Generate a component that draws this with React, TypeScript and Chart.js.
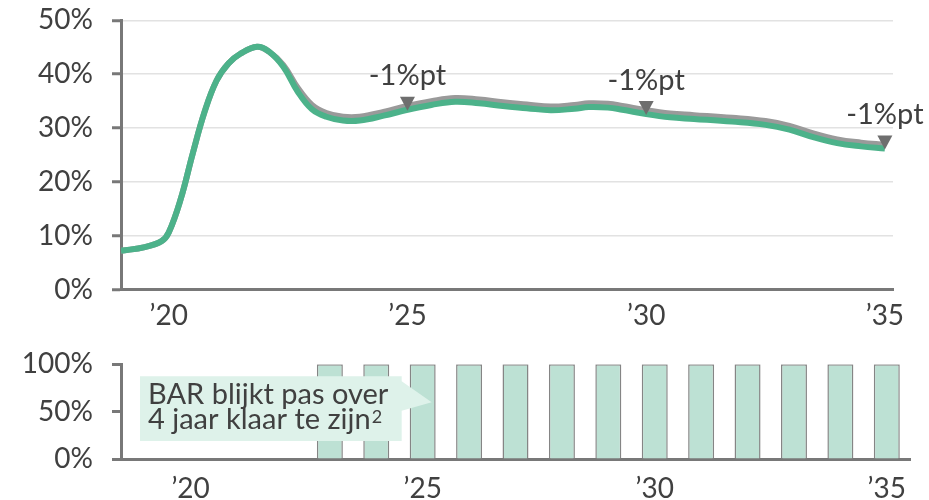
import React, { useEffect, useRef } from 'react';
import { Chart, registerables } from 'chart.js';

Chart.register(...registerables);

// ---- data ----
const years = [
  2019.0, 2019.5, 2019.85, 2020.0, 2020.25, 2020.5, 2020.75, 2021.0, 2021.25, 2021.5,
  2021.85, 2022.1, 2022.4, 2022.7, 2023.0, 2023.3, 2023.65, 2024.0, 2024.5, 2025.0,
  2025.5, 2026.0, 2026.5, 2027.0, 2027.5, 2028.0, 2028.5, 2028.8, 2029.2, 2029.5,
  2030.0, 2030.5, 2031.0, 2031.8, 2032.5, 2033.0, 2033.5, 2034.0, 2034.5, 2035.0,
];
const greenValues = [
  7.2, 7.9, 9.0, 10.6, 16.8, 25.2, 33.0, 38.8, 42.0, 43.8,
  45.1, 44.2, 41.4, 36.8, 33.5, 32.1, 31.4, 31.4, 32.3, 33.4,
  34.3, 34.9, 34.6, 34.1, 33.7, 33.3, 33.6, 33.9, 33.8, 33.4,
  32.6, 32.0, 31.7, 31.2, 30.6, 29.7, 28.3, 27.2, 26.6, 26.2,
];
const greyValues = [
  7.2, 7.9, 9.0, 10.6, 16.8, 25.2, 33.0, 38.8, 42.0, 43.8,
  45.1, 44.2, 41.7, 37.5, 34.3, 32.8, 32.1, 32.1, 33.0, 34.1,
  35.0, 35.6, 35.3, 34.8, 34.4, 34.0, 34.3, 34.6, 34.5, 34.1,
  33.3, 32.7, 32.4, 31.9, 31.3, 30.4, 29.0, 27.9, 27.3, 26.9,
];
const lineTickYears = [2020, 2025, 2030, 2035];
const annotationYears = [2025, 2030, 2035];
const annotationLabels = ['-1%pt', '-1%pt', '-1%pt'];

const barYears = [
  '2019', '2020', '2021', '2022', '2023', '2024', '2025', '2026', '2027',
  '2028', '2029', '2030', '2031', '2032', '2033', '2034', '2035',
];
const barValues = [null, null, null, null, 100, 100, 100, 100, 100, 100, 100, 100, 100, 100, 100, 100, 100];
const barTickYears = ['2020', '2025', '2030', '2035'];
const calloutLines = ['BAR blijkt pas over', '4 jaar klaar te zijn'];
const calloutSup = '2';

// ---- styles ----
const FONT = 'Lato, "Noto Sans", sans-serif';
const TEXT = '#404040';
const AXIS = '#787878';
const GRID = '#e2e2e2';
const GREEN = '#4cb28a';
const GREY = '#9a9a9a';
const BAR_FILL = '#bde1d4';
const BAR_BORDER = '#858585';
const CALLOUT_FILL = '#def2ea';

const shortYear = (y: number | string) => '\u2019' + String(y).slice(2);

const noScalePadding = (s: any) => {
  s.paddingTop = 0;
  s.paddingBottom = 0;
  s.paddingLeft = 0;
  s.paddingRight = 0;
};

const lineAnnotations = {
  id: 'lineAnnotations',
  afterDatasetsDraw(chart: any) {
    const { ctx } = chart;
    const xs = chart.scales.x;
    const ys = chart.scales.y;
    ctx.save();
    annotationYears.forEach((yr, i) => {
      const idx = years.indexOf(yr);
      const px = xs.getPixelForValue(yr);
      const tip = ys.getPixelForValue(greenValues[idx]) + 1;
      const top = tip - 14;
      ctx.fillStyle = '#6e6e6e';
      ctx.beginPath();
      ctx.moveTo(px - 7.5, top);
      ctx.lineTo(px + 7.5, top);
      ctx.lineTo(px, tip);
      ctx.closePath();
      ctx.fill();
      ctx.fillStyle = TEXT;
      ctx.font = `29px ${FONT}`;
      ctx.textAlign = 'center';
      ctx.textBaseline = 'alphabetic';
      ctx.fillText(annotationLabels[i], px, top - 11.5);
    });
    ctx.restore();
  },
};

const callout = {
  id: 'callout',
  afterDatasetsDraw(chart: any) {
    const { ctx, chartArea } = chart;
    const xs = chart.scales.x;
    const ys = chart.scales.y;
    const tipX = xs.getPixelForValue(barYears.indexOf('2025')) + 9;
    const tipY = ys.getPixelForValue(60);
    const left = chartArea.left + 19;
    const right = tipX - 30;
    const top = ys.getPixelForValue(87.5);
    const bottom = ys.getPixelForValue(19);
    ctx.save();
    ctx.fillStyle = CALLOUT_FILL;
    ctx.beginPath();
    ctx.moveTo(left, top);
    ctx.lineTo(right, top);
    ctx.lineTo(right, ys.getPixelForValue(82));
    ctx.lineTo(tipX, tipY);
    ctx.lineTo(right, ys.getPixelForValue(51));
    ctx.lineTo(right, bottom);
    ctx.lineTo(left, bottom);
    ctx.closePath();
    ctx.fill();
    ctx.fillStyle = TEXT;
    ctx.font = `29px ${FONT}`;
    ctx.textAlign = 'left';
    ctx.textBaseline = 'alphabetic';
    ctx.fillText(calloutLines[0], left + 8, top + 27.5);
    ctx.fillText(calloutLines[1], left + 8, top + 52.5);
    const w = ctx.measureText(calloutLines[1]).width;
    ctx.font = `18px ${FONT}`;
    ctx.fillText(calloutSup, left + 8 + w + 1, top + 47);
    ctx.restore();
  },
};

export default function App() {
  const lineRef = useRef<HTMLCanvasElement>(null);
  const barRef = useRef<HTMLCanvasElement>(null);

  useEffect(() => {
    Chart.defaults.font.family = FONT;
    const lineChart = new Chart(lineRef.current as HTMLCanvasElement, {
      type: 'line',
      data: {
        datasets: [
          {
            data: years.map((x, i) => ({ x, y: greenValues[i] })),
            borderColor: GREEN,
            borderWidth: 6,
            pointRadius: 0,
            tension: 0.4,
          },
          {
            data: years.map((x, i) => ({ x, y: greyValues[i] })),
            borderColor: GREY,
            borderWidth: 6,
            pointRadius: 0,
            tension: 0.4,
          },
        ],
      },
      options: {
        responsive: false,
        animation: false,
        layout: { padding: { top: 20.4, right: 36, left: 0, bottom: 0 }, autoPadding: false },
        plugins: { legend: { display: false }, tooltip: { enabled: false }, title: { display: false } },
        scales: {
          x: {
            type: 'linear',
            min: 2019,
            max: 2035.17,
            afterBuildTicks: (s: any) => {
              s.ticks = lineTickYears.map((v) => ({ value: v }));
            },
            afterFit: (s: any) => {
              s.height = 50.4;
              noScalePadding(s);
            },
            grid: { display: false, drawTicks: false },
            border: { display: true, color: AXIS, width: 3 },
            ticks: {
              padding: 10,
              maxRotation: 0,
              autoSkip: false,
              color: TEXT,
              font: { size: 28, family: FONT },
              callback: (v: any) => shortYear(v),
            },
          },
          y: {
            min: 0,
            max: 50,
            afterFit: (s: any) => {
              s.width = 121;
              noScalePadding(s);
            },
            grid: {
              color: (c: any) => (c.tick && c.tick.value === 0 ? 'rgba(0,0,0,0)' : GRID),
              lineWidth: 1.5,
              tickLength: 9,
              tickColor: AXIS,
              tickWidth: 3,
            },
            border: { display: true, color: AXIS, width: 3 },
            ticks: {
              stepSize: 10,
              padding: 19,
              color: TEXT,
              font: { size: 28, family: FONT },
              callback: (v: any) => v + '%',
            },
          },
        },
      } as any,
      plugins: [lineAnnotations],
    });

    const barChart = new Chart(barRef.current as HTMLCanvasElement, {
      type: 'bar',
      data: {
        labels: barYears,
        datasets: [
          {
            data: barValues,
            backgroundColor: BAR_FILL,
            borderColor: BAR_BORDER,
            borderWidth: 1.5,
            categoryPercentage: 0.8,
            barPercentage: 0.7,
          },
        ],
      },
      options: {
        responsive: false,
        animation: false,
        layout: { padding: { top: 24.3, right: 19, left: 0, bottom: 0 }, autoPadding: false },
        plugins: { legend: { display: false }, tooltip: { enabled: false } },
        scales: {
          x: {
            afterFit: (s: any) => {
              s.height = 41;
              noScalePadding(s);
            },
            grid: { display: false, drawTicks: false },
            border: { display: true, color: AXIS, width: 3 },
            ticks: {
              padding: 13,
              maxRotation: 0,
              autoSkip: false,
              color: TEXT,
              font: { size: 28, family: FONT },
              callback: (_v: any, i: number) => (barTickYears.includes(barYears[i]) ? shortYear(barYears[i]) : ''),
            },
          },
          y: {
            min: 0,
            max: 100,
            afterFit: (s: any) => {
              s.width = 121;
              noScalePadding(s);
            },
            grid: {
              drawOnChartArea: false,
              tickLength: 9,
              tickColor: AXIS,
              tickWidth: 3,
            },
            border: { display: true, color: AXIS, width: 3 },
            ticks: {
              stepSize: 50,
              padding: 19,
              color: TEXT,
              font: { size: 28, family: FONT },
              callback: (v: any) => v + '%',
            },
          },
        },
      } as any,
      plugins: [callout],
    });

    return () => {
      lineChart.destroy();
      barChart.destroy();
    };
  }, []);

  return (
    <div style={{ position: 'fixed', left: 0, top: 0, width: 929, height: 500, background: '#fff', overflow: 'hidden' }}>
      <canvas ref={lineRef} width={929} height={340} style={{ position: 'absolute', left: 0, top: 0, width: 929, height: 340 }} />
      <canvas ref={barRef} width={929} height={160} style={{ position: 'absolute', left: 0, top: 340, width: 929, height: 160 }} />
    </div>
  );
}
